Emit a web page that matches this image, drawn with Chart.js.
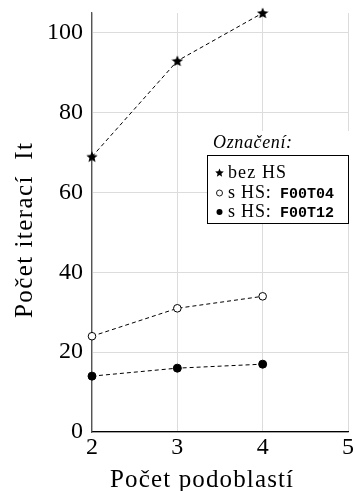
<!DOCTYPE html>
<html>
<head>
<meta charset="utf-8">
<script src="https://cdn.jsdelivr.net/npm/chart.js@4/dist/chart.umd.min.js"></script>
<style>
  html, body { margin: 0; padding: 0; background: #fff; }
  #wrap { width: 353px; height: 491px; }
</style>
</head>
<body>
<div id="wrap"><canvas id="chart" width="353" height="491"></canvas></div>
<script>
const subdomains = [2, 3, 4];
const noHS = [69, 93, 105];
const hsFoot04 = [24, 31, 34];
const hsFoot12 = [14, 16, 17];
const yTicks = [0, 20, 40, 60, 80, 100];
const xTicks = [2, 3, 4, 5];
const xTitle = 'Počet podoblastí';
const yTitle = 'Počet iterací  It';
const legendTitle = 'Označení:';

const serif = '"Liberation Serif", "Times New Roman", serif';
const mono = '"Liberation Mono", "DejaVu Sans Mono", monospace';

// filled five point star used as point style
function makeStar(size) {
    const c = document.createElement('canvas');
    c.width = size;
    c.height = size;
    const ctx = c.getContext('2d');
    const cx = size / 2, cy = size / 2 + 0.5;
    const outer = size / 2, inner = outer * 0.45;
    ctx.beginPath();
    for (let i = 0; i < 10; i++) {
        const r = i % 2 === 0 ? outer : inner;
        const a = -Math.PI / 2 + i * Math.PI / 5;
        const px = cx + r * Math.cos(a), py = cy + r * Math.sin(a);
        if (i === 0) ctx.moveTo(px, py); else ctx.lineTo(px, py);
    }
    ctx.closePath();
    ctx.fillStyle = '#000';
    ctx.fill();
    return c;
}

const bigStar = makeStar(12);
const smallStar = makeStar(9);

const toPoints = (ys) => subdomains.map((x, i) => ({ x: x, y: ys[i] }));

const legendItems = [
    { marker: 'star', text: 'bez HS', code: '' },
    { marker: 'open', text: 's HS: ', code: 'F00T04' },
    { marker: 'filled', text: 's HS: ', code: 'F00T12' }
];

// stretch a string to a given width (the original uses a wider serif)
function fitText(ctx, text, x, y, width) {
    ctx.letterSpacing = '0px';
    const w = ctx.measureText(text).width;
    const extra = Math.max(0, (width - w) / (text.length - 1));
    ctx.letterSpacing = extra.toFixed(2) + 'px';
    ctx.fillText(text, x, y);
    ctx.letterSpacing = '0px';
}

const axisTitles = {
    id: 'axisTitles',
    afterDraw(chart) {
        const ctx = chart.ctx;
        ctx.save();
        ctx.fillStyle = '#000';
        ctx.textBaseline = 'alphabetic';
        ctx.textAlign = 'left';
        ctx.font = '25px ' + serif;
        fitText(ctx, xTitle, 110, 487, 183);

        ctx.translate(32, 318);
        ctx.rotate(-Math.PI / 2);
        ctx.font = '25px ' + serif;
        fitText(ctx, yTitle, 0, 0, 175);
        ctx.restore();
    }
};

const legendBox = {
    id: 'legendBox',
    afterDatasetsDraw(chart) {
        const ctx = chart.ctx;
        const left = 207, top = 155, right = 349, bottom = 224;
        ctx.save();
        ctx.fillStyle = '#fff';
        ctx.fillRect(left, 131, right - left, bottom - 131);
        ctx.strokeStyle = '#000';
        ctx.lineWidth = 1;
        ctx.strokeRect(left + 0.5, top + 0.5, right - left - 1, bottom - top - 1);

        ctx.fillStyle = '#000';
        ctx.textBaseline = 'alphabetic';
        ctx.font = 'italic 18px ' + serif;
        fitText(ctx, legendTitle, 213, 148, 79);

        const rows = [173, 193, 212];
        legendItems.forEach((item, i) => {
            const y = rows[i];
            const mx = 219.5;
            if (item.marker === 'star') {
                ctx.drawImage(smallStar, mx - 4.5, y - 5);
            } else {
                ctx.beginPath();
                ctx.arc(mx, y, 3, 0, Math.PI * 2);
                if (item.marker === 'filled') {
                    ctx.fill();
                } else {
                    ctx.lineWidth = 0.9;
                    ctx.stroke();
                }
            }
            ctx.textBaseline = 'middle';
            ctx.font = '18px ' + serif;
            if (item.code) {
                fitText(ctx, item.text, 228, y, 48);
                ctx.font = 'bold 15px ' + mono;
                ctx.fillText(item.code, 280, y + 1);
            } else {
                fitText(ctx, item.text, 228, y, 58);
            }
        });
        ctx.restore();
    }
};

const seriesStyle = {
    borderColor: '#000',
    borderWidth: 1,
    borderDash: [4, 3],
    showLine: true,
    tension: 0,
    clip: false
};

new Chart(document.getElementById('chart'), {
    type: 'scatter',
    data: {
        datasets: [
            Object.assign({}, seriesStyle, {
                label: 'bez HS',
                data: toPoints(noHS),
                pointStyle: bigStar,
                backgroundColor: '#000'
            }),
            Object.assign({}, seriesStyle, {
                label: 's HS: F00T04',
                data: toPoints(hsFoot04),
                pointStyle: 'circle',
                pointRadius: 3.8,
                pointBorderWidth: 1,
                pointBorderColor: '#000',
                pointBackgroundColor: '#fff'
            }),
            Object.assign({}, seriesStyle, {
                label: 's HS: F00T12',
                data: toPoints(hsFoot12),
                pointStyle: 'circle',
                pointRadius: 4,
                pointBorderWidth: 1,
                pointBorderColor: '#000',
                pointBackgroundColor: '#000'
            })
        ]
    },
    options: {
        responsive: false,
        animation: false,
        layout: { padding: { top: 13, right: 4, left: 0, bottom: 0 } },
        plugins: {
            legend: { display: false },
            tooltip: { enabled: false }
        },
        scales: {
            x: {
                type: 'linear',
                min: 2,
                max: 5,
                afterBuildTicks: (scale) => { scale.ticks = xTicks.map(v => ({ value: v })); },
                afterFit: (scale) => {
                    scale.height = 59;
                    scale.paddingLeft = 0;
                    scale.paddingRight = 0;
                },
                grid: { color: '#dcdcdc', drawTicks: false, lineWidth: 1 },
                border: { color: '#000', width: 1.3 },
                ticks: {
                    color: '#000',
                    padding: 1,
                    font: { family: serif, size: 24 }
                }
            },
            y: {
                type: 'linear',
                min: 0,
                max: 105,
                afterBuildTicks: (scale) => { scale.ticks = yTicks.map(v => ({ value: v })); },
                afterFit: (scale) => {
                    scale.width = 92;
                    scale.paddingTop = 0;
                    scale.paddingBottom = 0;
                },
                grid: { color: '#dcdcdc', drawTicks: false, lineWidth: 1 },
                border: { color: '#555', width: 1.3 },
                ticks: {
                    color: '#000',
                    padding: 9,
                    font: { family: serif, size: 24 }
                }
            }
        }
    },
    plugins: [legendBox, axisTitles]
});
</script>
</body>
</html>
